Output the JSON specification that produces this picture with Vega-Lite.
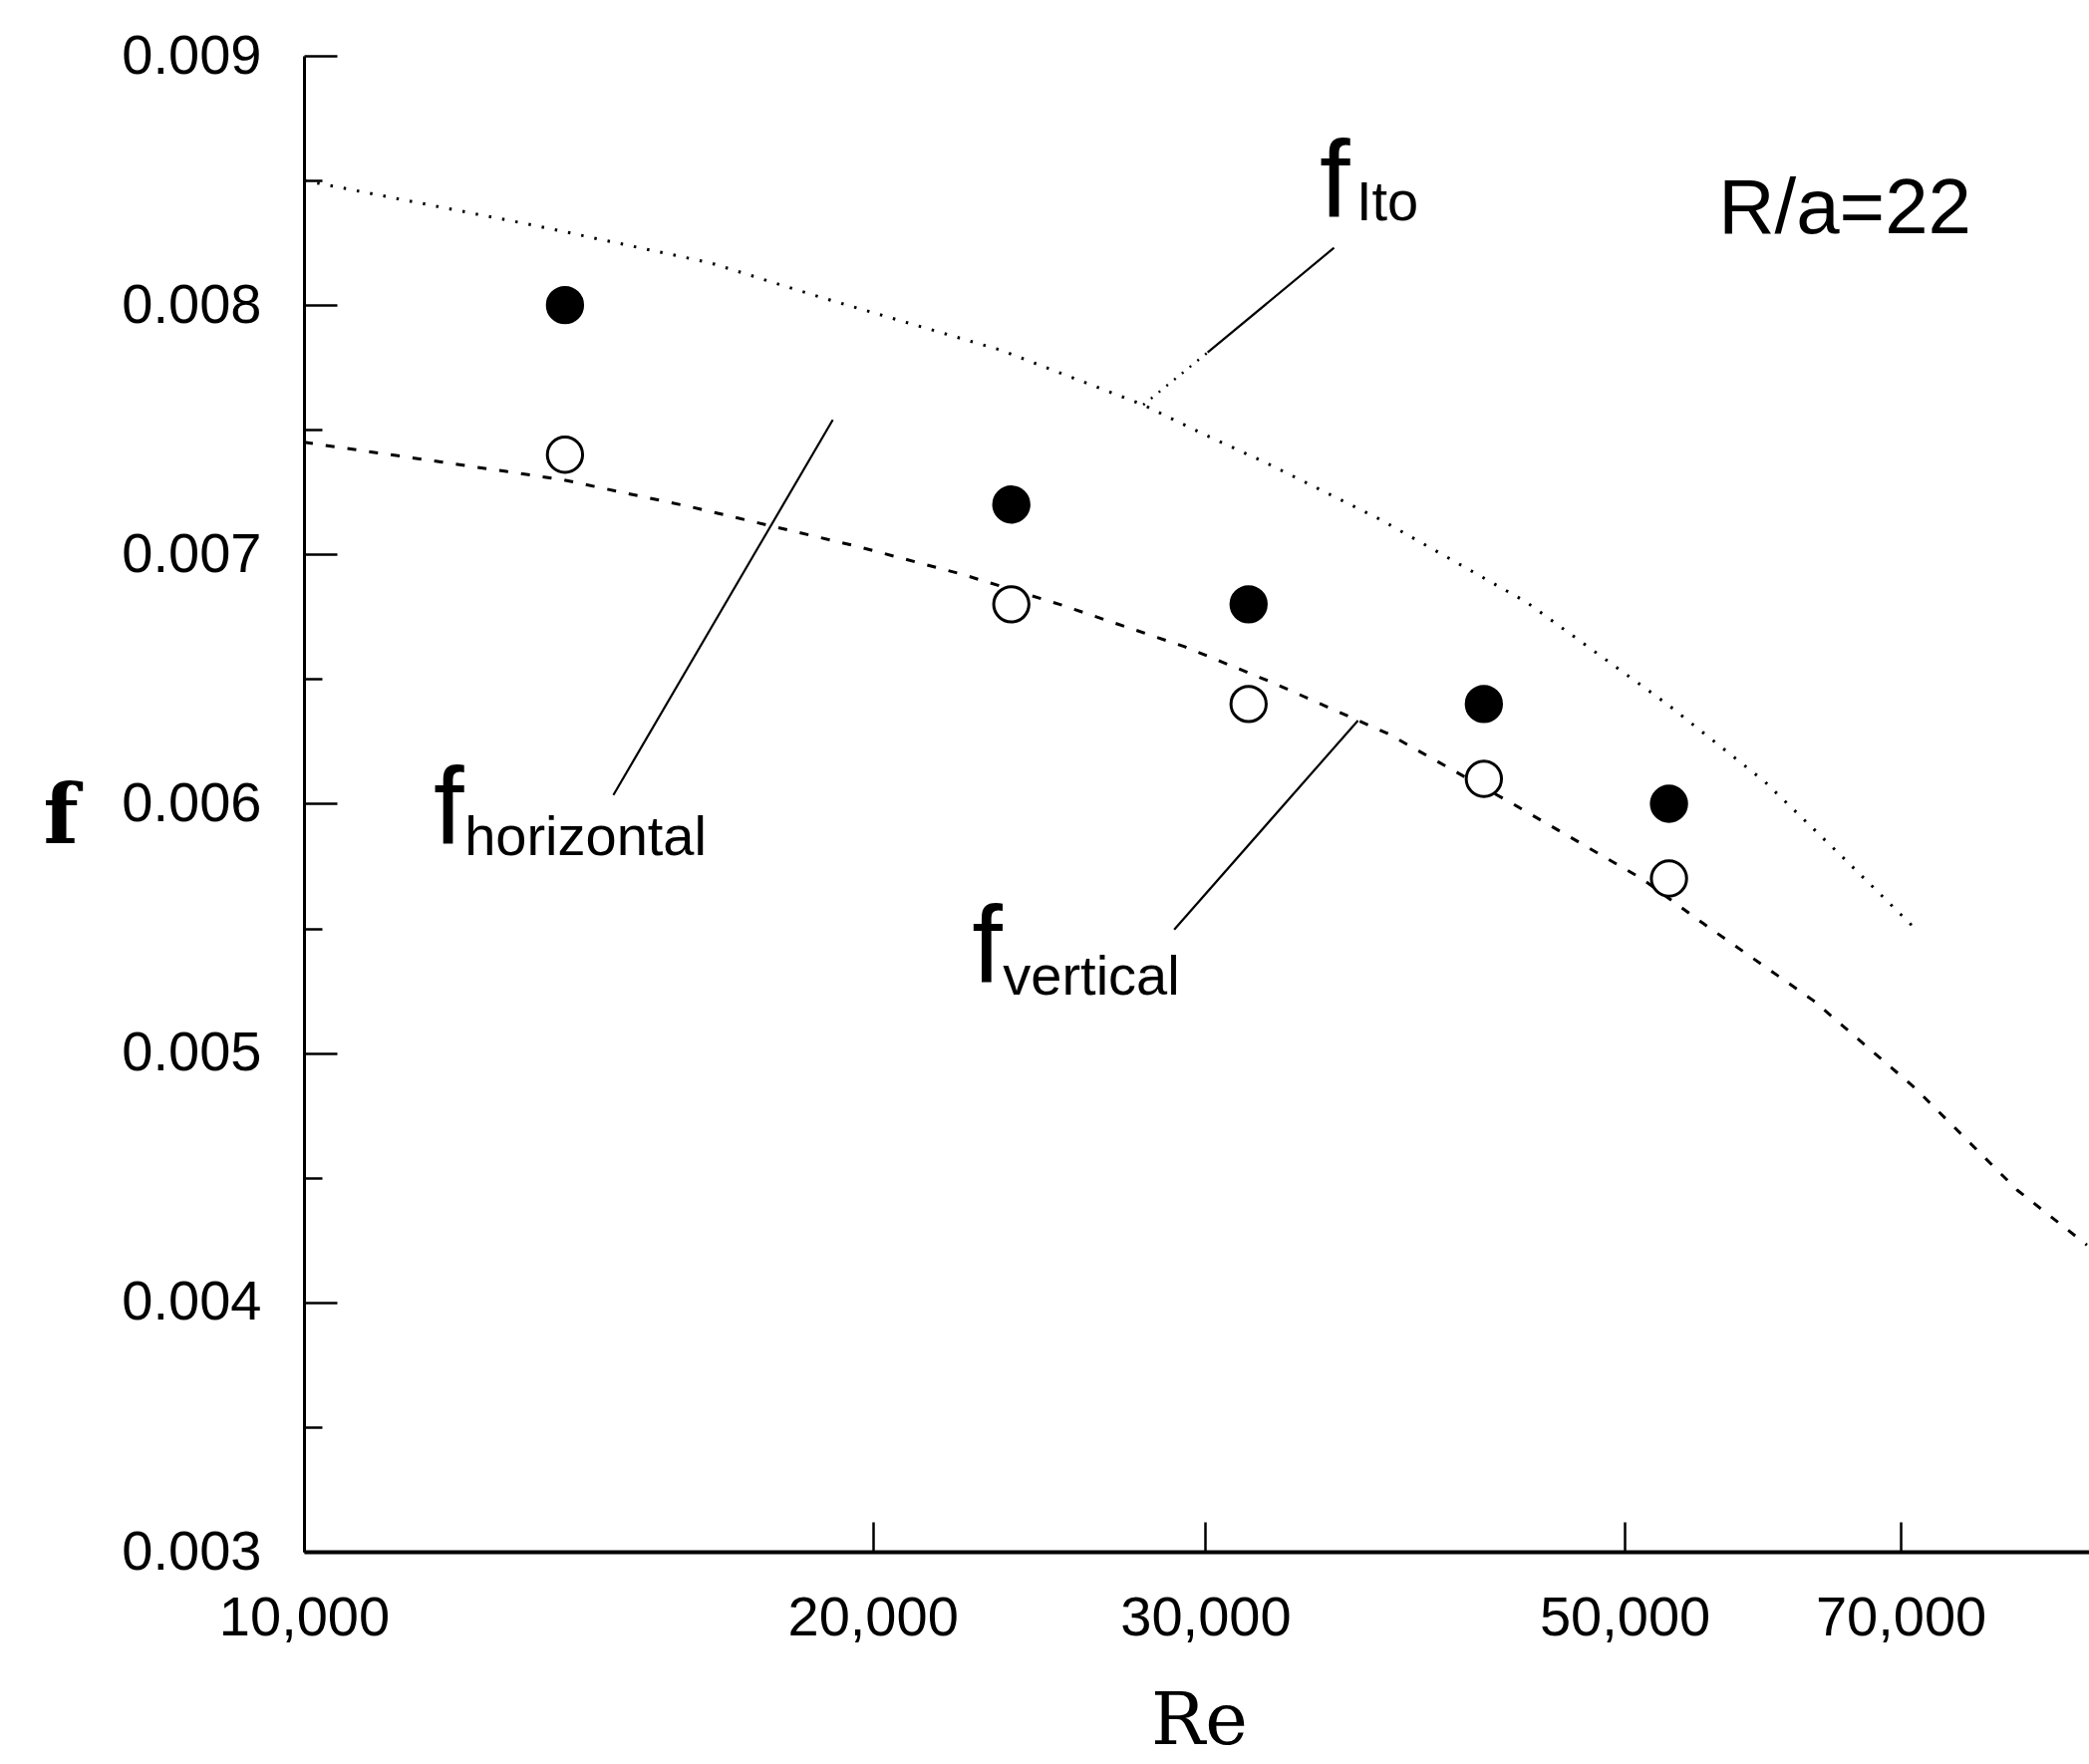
{
  "$schema": "https://vega.github.io/schema/vega-lite/v6.json",
  "width": 1791,
  "height": 1501,
  "autosize": {"type": "none"},
  "padding": {"left": 305, "top": 56, "right": 0, "bottom": 213},
  "background": "white",
  "config": {
    "view": {"stroke": null},
    "font": "Liberation Sans",
    "axis": {
      "grid": false,
      "domainColor": "black",
      "tickColor": "black",
      "labelColor": "black",
      "titleColor": "black",
      "labelFont": "Liberation Sans",
      "labelFontSize": 56,
      "labelFlush": false,
      "labelOverlap": false
    }
  },
  "datasets": {
    "measured": [
      {"Re": 13745, "f": 0.0080, "orientation": "horizontal"},
      {"Re": 23680, "f": 0.0072, "orientation": "horizontal"},
      {"Re": 31620, "f": 0.0068, "orientation": "horizontal"},
      {"Re": 42120, "f": 0.0064, "orientation": "horizontal"},
      {"Re": 52780, "f": 0.0060, "orientation": "horizontal"},
      {"Re": 13745, "f": 0.0074, "orientation": "vertical"},
      {"Re": 23680, "f": 0.0068, "orientation": "vertical"},
      {"Re": 31620, "f": 0.0064, "orientation": "vertical"},
      {"Re": 42120, "f": 0.0061, "orientation": "vertical"},
      {"Re": 52780, "f": 0.0057, "orientation": "vertical"}
    ],
    "ito": [
      {"Re": 10000, "f": 0.00850},
      {"Re": 13240, "f": 0.00832},
      {"Re": 16400, "f": 0.00817},
      {"Re": 18800, "f": 0.00803},
      {"Re": 23370, "f": 0.00782},
      {"Re": 27810, "f": 0.00760},
      {"Re": 29980, "f": 0.00748},
      {"Re": 32250, "f": 0.00737},
      {"Re": 37130, "f": 0.00714},
      {"Re": 44340, "f": 0.00681},
      {"Re": 52660, "f": 0.00640},
      {"Re": 59290, "f": 0.00609},
      {"Re": 65340, "f": 0.00578},
      {"Re": 71230, "f": 0.00550}
    ],
    "vertical": [
      {"Re": 10000, "f": 0.00745},
      {"Re": 11840, "f": 0.00737},
      {"Re": 13700, "f": 0.00730},
      {"Re": 16040, "f": 0.00719},
      {"Re": 19680, "f": 0.00703},
      {"Re": 22310, "f": 0.00692},
      {"Re": 25110, "f": 0.00680},
      {"Re": 29250, "f": 0.00663},
      {"Re": 32460, "f": 0.00649},
      {"Re": 37500, "f": 0.00628},
      {"Re": 43620, "f": 0.00600},
      {"Re": 51050, "f": 0.00570},
      {"Re": 55030, "f": 0.00552},
      {"Re": 62950, "f": 0.00521},
      {"Re": 71230, "f": 0.00486},
      {"Re": 80700, "f": 0.00445},
      {"Re": 87840, "f": 0.00423}
    ],
    "leaders": [
      {"leader": "horizontal", "Re": 19050, "f": 0.00754},
      {"leader": "horizontal", "Re": 14580, "f": 0.006035},
      {"leader": "vertical", "Re": 36130, "f": 0.006334},
      {"leader": "vertical", "Re": 28880, "f": 0.005495},
      {"leader": "Ito", "Re": 35090, "f": 0.00823},
      {"leader": "Ito", "Re": 30080, "f": 0.00781},
      {"leader": "Ito tail", "Re": 30080, "f": 0.00781},
      {"leader": "Ito tail", "Re": 27810, "f": 0.00760}
    ],
    "fmarks": [
      {"name": "horizontal", "Re": 11712, "f": 0.005842},
      {"name": "vertical", "Re": 22573, "f": 0.005287},
      {"name": "Ito", "Re": 34480, "f": 0.008356}
    ],
    "subs": [
      {"name": "horizontal", "Re": 12162, "f": 0.005794},
      {"name": "vertical", "Re": 23440, "f": 0.005235},
      {"name": "Ito", "Re": 36060, "f": 0.00834}
    ],
    "note": [
      {"text": "R/a=22", "Re": 56060, "f": 0.008288}
    ]
  },
  "layer": [
    {
      "data": {"name": "ito"},
      "mark": {"type": "line", "stroke": "black", "strokeWidth": 3, "strokeDash": [2.5, 11], "clip": true},
      "encoding": {
        "x": {
          "field": "Re", "type": "quantitative", "title": "Re",
          "scale": {"type": "log", "domain": [10000, 88060], "nice": false},
          "axis": {
            "values": [10000, 20000, 30000, 50000, 70000],
            "format": ",d",
            "domainWidth": 4,
            "tickSize": -30,
            "tickWidth": 2.5,
            "labelPadding": 69,
            "titleFont": "DejaVu Serif",
            "titleFontSize": 72,
            "titleFontWeight": "normal",
            "titleX": 898,
            "titleY": 192,
            "titleAlign": "center",
            "titleBaseline": "alphabetic"
          }
        },
        "y": {
          "field": "f", "type": "quantitative", "title": "f",
          "scale": {"domain": [0.003, 0.009], "nice": false, "zero": false},
          "axis": {
            "values": [0.003, 0.0035, 0.004, 0.0045, 0.005, 0.0055, 0.006, 0.0065, 0.007, 0.0075, 0.008, 0.0085, 0.009],
            "labelExpr": "abs(datum.value*1000 - round(datum.value*1000)) < 0.01 ? format(datum.value, '.3f') : ''",
            "domainWidth": 3,
            "tickSize": -33,
            "tickWidth": 2.5,
            "tickDash": {"condition": {"test": "abs(datum.value*1000 - round(datum.value*1000)) < 0.01", "value": [40, 10]}, "value": [18, 60]},
            "labelPadding": 76,
            "titleAngle": 0,
            "titleFont": "DejaVu Serif",
            "titleFontSize": 82,
            "titleFontWeight": "bold",
            "titleX": -262,
            "titleY": 789,
            "titleAlign": "left",
            "titleBaseline": "alphabetic"
          }
        }
      }
    },
    {
      "data": {"name": "vertical"},
      "mark": {"type": "line", "stroke": "black", "strokeWidth": 3, "strokeDash": [9, 13], "clip": true},
      "encoding": {
        "x": {"field": "Re", "type": "quantitative"},
        "y": {"field": "f", "type": "quantitative"}
      }
    },
    {
      "data": {"name": "leaders"},
      "transform": [{"filter": "datum.leader != 'Ito tail'"}],
      "mark": {"type": "line", "stroke": "black", "strokeWidth": 2.2},
      "encoding": {
        "x": {"field": "Re", "type": "quantitative"},
        "y": {"field": "f", "type": "quantitative"},
        "detail": {"field": "leader"}
      }
    },
    {
      "data": {"name": "leaders"},
      "transform": [{"filter": "datum.leader == 'Ito tail'"}],
      "mark": {"type": "line", "stroke": "black", "strokeWidth": 2.5, "strokeDash": [2, 8]},
      "encoding": {
        "x": {"field": "Re", "type": "quantitative"},
        "y": {"field": "f", "type": "quantitative"}
      }
    },
    {
      "mark": {"type": "rule", "stroke": "black", "strokeWidth": 5},
      "encoding": {"y": {"datum": 0.009}}
    },
    {
      "data": {"name": "measured"},
      "mark": {"type": "point", "shape": "circle", "size": 1250, "filled": true, "stroke": "black", "strokeWidth": 3, "opacity": 1},
      "encoding": {
        "x": {"field": "Re", "type": "quantitative"},
        "y": {"field": "f", "type": "quantitative"},
        "fill": {"field": "orientation", "type": "nominal", "scale": {"domain": ["horizontal", "vertical"], "range": ["black", "white"]}, "legend": null}
      }
    },
    {
      "data": {"name": "fmarks"},
      "mark": {"type": "text", "text": "f", "font": "Liberation Sans", "fontSize": 110, "align": "left", "baseline": "alphabetic", "color": "black"},
      "encoding": {
        "x": {"field": "Re", "type": "quantitative"},
        "y": {"field": "f", "type": "quantitative"}
      }
    },
    {
      "data": {"name": "subs"},
      "mark": {"type": "text", "font": "Liberation Sans", "fontSize": 56, "align": "left", "baseline": "alphabetic", "color": "black"},
      "encoding": {
        "x": {"field": "Re", "type": "quantitative"},
        "y": {"field": "f", "type": "quantitative"},
        "text": {"field": "name"}
      }
    },
    {
      "data": {"name": "note"},
      "mark": {"type": "text", "font": "Liberation Sans", "fontSize": 78, "align": "left", "baseline": "alphabetic", "color": "black"},
      "encoding": {
        "x": {"field": "Re", "type": "quantitative"},
        "y": {"field": "f", "type": "quantitative"},
        "text": {"field": "text"}
      }
    }
  ]
}
